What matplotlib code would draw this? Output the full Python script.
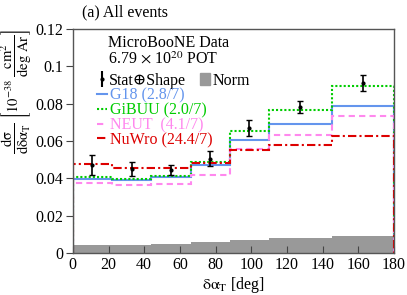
import numpy as np
import matplotlib
matplotlib.use("Agg")
import matplotlib.pyplot as plt
from matplotlib.lines import Line2D
from matplotlib.patches import Patch

plt.rcParams['font.family'] = ['Liberation Serif', 'DejaVu Serif']
plt.rcParams['mathtext.fontset'] = 'stix'
plt.rcParams['font.size'] = 11.5

# bin edges in degrees
edges = [0, 22, 44, 66, 88, 110, 145, 180]
centers = [11, 33, 55, 77, 99, 127.5, 162.5]

data = [0.0473, 0.0452, 0.0446, 0.0505, 0.0669, 0.0782, 0.0910]
data_err = [0.0054, 0.0038, 0.0027, 0.0040, 0.0043, 0.0031, 0.0045]
norm = [0.0044, 0.0044, 0.0051, 0.0058, 0.0072, 0.0081, 0.0092]

g18 = [0.0398, 0.0392, 0.0405, 0.0473, 0.0607, 0.0690, 0.0785]
gibuu = [0.0407, 0.0398, 0.0414, 0.0485, 0.0651, 0.0767, 0.0892]
neut = [0.0375, 0.0365, 0.0370, 0.0419, 0.0555, 0.0634, 0.0735]
nuwro = [0.0478, 0.0458, 0.0455, 0.0482, 0.0553, 0.0576, 0.0628]

models = [
    ("G18 (2.8/7)", g18, "#6495ed", "-"),
    ("GiBUU (2.0/7)", gibuu, "#00cc00", (0, (1, 1))),
    ("NEUT  (4.1/7)", neut, "#ff88ee", (0, (3, 2))),
    ("NuWro (24.4/7)", nuwro, "#dd0000", (0, (4, 1.5, 1, 1.5))),
]

fig = plt.figure(figsize=(4.07, 2.95), dpi=100)
ax = fig.add_axes([0.179, 0.142, 0.789, 0.760])

ax.stairs(norm, edges, fill=True, color="#999999", zorder=1)

for name, vals, col, ls in models:
    ax.stairs(vals, edges, color=col, linestyle=ls, linewidth=1.5, zorder=2)

ax.errorbar(centers, data, yerr=data_err, fmt='o', color='black', ms=2,
            capsize=2, elinewidth=1.2, capthick=1.0, zorder=3)

ax.set_xlim(0, 180)
ax.set_ylim(0, 0.12)
ax.set_xticks(range(0, 181, 20))
ax.set_yticks([0, 0.02, 0.04, 0.06, 0.08, 0.1, 0.12])
ax.set_yticklabels(["0", "0.02", "0.04", "0.06", "0.08", "0.1", "0.12"])
ax.tick_params(axis='x', direction='in', length=5, width=0.8, colors='#444444',
               labelcolor='black', pad=3)
ax.tick_params(axis='y', direction='out', length=5, width=0.8, colors='#444444',
               labelcolor='black', pad=2)
for s in ax.spines.values():
    s.set_color('#555555')
    s.set_linewidth(1.0)

ax.set_xlabel(r"$\mathrm{\delta\alpha_T}$ [deg]", labelpad=1)
ax.set_ylabel(r"$\dfrac{\mathrm{d\sigma}}{\mathrm{d\delta\alpha_T}}\ "
              r"\left[10^{-38}\ \dfrac{\mathrm{cm}^2}{\mathrm{deg\ Ar}}\right]$",
              loc='top', fontsize=10.5)
ax.yaxis.set_label_coords(-0.12, 1.0)

fig.text(0.202, 0.958, "(a) All events", ha='left', va='center')

# header texts
ax.text(0.11, 0.937, "MicroBooNE Data", transform=ax.transAxes, va='center')
ax.text(0.11, 0.862, r"6.79 $\times$ 10$^{20}$ POT", transform=ax.transAxes, va='center')

# data / norm legend
eb = ax.errorbar([], [], yerr=[], fmt='o', color='black', ms=2, capsize=2)
leg1 = ax.legend([eb, Patch(color="#999999")], ["Stat\u2295Shape", "Norm"], ncol=2,
                 loc='upper left', bbox_to_anchor=(0.075, 0.804), frameon=False,
                 handlelength=0.6, handleheight=0.8, handletextpad=0.15,
                 columnspacing=0.9, borderaxespad=0, borderpad=0)
ax.add_artist(leg1)

h2 = [Line2D([], [], color=c, linestyle=ls, linewidth=1.5) for _, _, c, ls in models]
leg2 = ax.legend(h2, [m[0] for m in models], loc='upper left',
                 bbox_to_anchor=(0.075, 0.737), frameon=False, handlelength=0.65,
                 handletextpad=0.15, labelspacing=-0.08, borderaxespad=0, borderpad=0)
for t, m in zip(leg2.get_texts(), models):
    t.set_color(m[2])

fig.savefig("out.png", dpi=100)
